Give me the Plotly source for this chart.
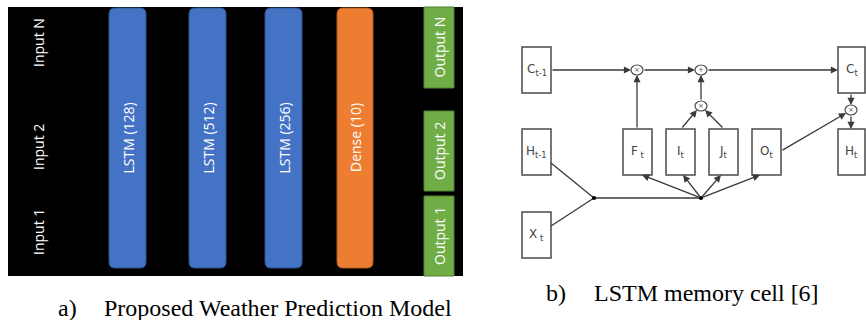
import plotly.graph_objects as go

# ---- content (labels) ----
input_labels = ["Input N", "Input 2", "Input 1"]
layer_labels = ["LSTM (128)", "LSTM (512)", "LSTM (256)", "Dense (10)"]
layer_kinds = ["lstm", "lstm", "lstm", "dense"]
output_labels = ["Output N", "Output 2", "Output 1"]
cell_state_labels = ["C<sub>t-1</sub>", "C<sub>t</sub>"]
hidden_labels = ["H<sub>t-1</sub>", "H<sub>t</sub>"]
input_cell_label = "X<sub> t</sub>"
gate_labels = ["F<sub> t</sub>", "I<sub>t</sub>", "J<sub>t</sub>", "O<sub>t</sub>"]
caption_a = ["a)", "Proposed Weather Prediction Model"]
caption_b = ["b)", "LSTM memory cell [6]"]

# ---- layout geometry (pixel space) ----
W, H = 866, 320
panel = (8, 7, 463, 276)
input_x = 38
input_y = [43, 147, 232]
layer_x = [(109, 146), (189, 226), (265, 302), (337, 373)]
layer_y = (8, 268)
out_x = (424, 454)
out_y = [(7, 88), (111, 191), (196, 276)]
fill = {"lstm": ("#4472c4", "#2f528f"), "dense": ("#ed7d31", "#ae5a21")}

LC = "#3a3a3a"
shapes, annos = [], []


def rounded(x0, y0, x1, y1, r):
    return (f"M{x0+r},{y0} L{x1-r},{y0} Q{x1},{y0} {x1},{y0+r} "
            f"L{x1},{y1-r} Q{x1},{y1} {x1-r},{y1} L{x0+r},{y1} "
            f"Q{x0},{y1} {x0},{y1-r} L{x0},{y0+r} Q{x0},{y0} {x0+r},{y0} Z")


# left panel
shapes.append(dict(type="rect", x0=panel[0], y0=panel[1], x1=panel[2], y1=panel[3],
                   fillcolor="black", line=dict(width=0), layer="below"))
sans = "Open Sans"
for lab, yy in zip(input_labels, input_y):
    annos.append(dict(x=input_x, y=yy, text=lab, textangle=-90, showarrow=False,
                      font=dict(family=sans, size=14, color="white")))
for lab, kind, (x0, x1) in zip(layer_labels, layer_kinds, layer_x):
    f, e = fill[kind]
    shapes.append(dict(type="path", path=rounded(x0, layer_y[0], x1, layer_y[1], 6),
                       fillcolor=f, line=dict(color=e, width=1)))
    annos.append(dict(x=(x0 + x1) / 2, y=(layer_y[0] + layer_y[1]) / 2, text=lab,
                      textangle=-90, showarrow=False,
                      font=dict(family=sans, size=14, color="white")))
for lab, (y0, y1) in zip(output_labels, out_y):
    shapes.append(dict(type="rect", x0=out_x[0], y0=y0, x1=out_x[1], y1=y1,
                       fillcolor="#70ad47", line=dict(color="#507e32", width=1)))
    annos.append(dict(x=(out_x[0] + out_x[1]) / 2, y=(y0 + y1) / 2, text=lab,
                      textangle=-90, showarrow=False,
                      font=dict(family=sans, size=14, color="white")))

# right panel: LSTM cell
row_top, row_mid, row_bot = (47, 93), (129, 175), (212, 258)
col_left = (522, 551)
col_right = (838, 865)
gate_cols = [(623, 652), (666, 695), (709, 738), (752, 781)]
boxes = [
    (col_left, row_top, cell_state_labels[0]),
    (col_left, row_mid, hidden_labels[0]),
    (col_left, row_bot, input_cell_label),
    (col_right, row_top, cell_state_labels[1]),
    (col_right, row_mid, hidden_labels[1]),
] + [(gc, row_mid, g) for gc, g in zip(gate_cols, gate_labels)]
lab_font = dict(family="DejaVu Sans", size=12, color="#444")
for (x0, x1), (y0, y1), lab in boxes:
    shapes.append(dict(type="rect", x0=x0, y0=y0, x1=x1, y1=y1,
                       fillcolor="white", line=dict(color="#4a4a4a", width=1.5)))
    annos.append(dict(x=(x0 + x1) / 2, y=(y0 + y1) / 2, text=lab, showarrow=False,
                      font=lab_font))

ops = [(637, 70, "×"), (701, 70, "+"), (701, 106, "×"), (851, 110, "×")]
rx, ry = 6, 5
for cx, cy, sym in ops:
    shapes.append(dict(type="circle", x0=cx - rx, y0=cy - ry, x1=cx + rx, y1=cy + ry,
                       fillcolor="white", line=dict(color="#4a4a4a", width=1.2)))
    annos.append(dict(x=cx, y=cy, text=sym, showarrow=False,
                      font=dict(family="DejaVu Sans", size=7, color="#555")))


def line(x0, y0, x1, y1):
    shapes.append(dict(type="line", x0=x0, y0=y0, x1=x1, y1=y1,
                       line=dict(color=LC, width=1.3)))


def arrow(x0, y0, x1, y1):
    annos.append(dict(x=x1, y=y1, ax=x0, ay=y0, xref="x", yref="y", axref="x",
                      ayref="y", text="", showarrow=True, arrowhead=2,
                      arrowsize=1.1, arrowwidth=1.3, arrowcolor=LC, standoff=0,
                      startstandoff=0))


# cell state path
arrow(551, 70, 631, 70)
arrow(643, 70, 695, 70)
arrow(707, 70, 838, 70)
# forget gate
arrow(637, 129, 637, 75)
# input gates
arrow(681, 129, 697, 110)
arrow(724, 129, 705, 110)
arrow(701, 101, 701, 75)
# output
arrow(781, 151, 846, 113)
arrow(851, 93, 851, 105)
arrow(851, 115, 851, 129)
# inputs merge
j1, j2 = (594, 198), (701, 198)
line(551, 163, *j1)
line(551, 226, *j1)
line(*j1, *j2)
for tx in [642, 683, 721, 760]:
    arrow(j2[0], j2[1], tx, 175)
for jx, jy in (j1, j2):
    shapes.append(dict(type="circle", x0=jx - 2.2, y0=jy - 2, x1=jx + 2.2, y1=jy + 2,
                       fillcolor="black", line=dict(width=0)))

# captions
serif = dict(family="Liberation Serif", size=24, color="black")
annos.append(dict(x=56, y=308, text=caption_a[0], xanchor="left", showarrow=False, font=serif))
annos.append(dict(x=102, y=308, text=caption_a[1], xanchor="left", showarrow=False, font=serif))
annos.append(dict(x=544, y=293, text=caption_b[0], xanchor="left", showarrow=False, font=serif))
annos.append(dict(x=592, y=293, text=caption_b[1], xanchor="left", showarrow=False, font=serif))

fig = go.Figure()
fig.update_layout(
    width=W, height=H, autosize=False,
    margin=dict(l=0, r=0, t=0, b=0),
    paper_bgcolor="white", plot_bgcolor="white",
    xaxis=dict(range=[0, W], visible=False, fixedrange=True),
    yaxis=dict(range=[H, 0], visible=False, fixedrange=True),
    shapes=shapes, annotations=annos, showlegend=False,
)
fig.write_html("out.html", config={"displayModeBar": False},
               post_script="document.body.style.margin='0';document.body.style.overflow='hidden';")
